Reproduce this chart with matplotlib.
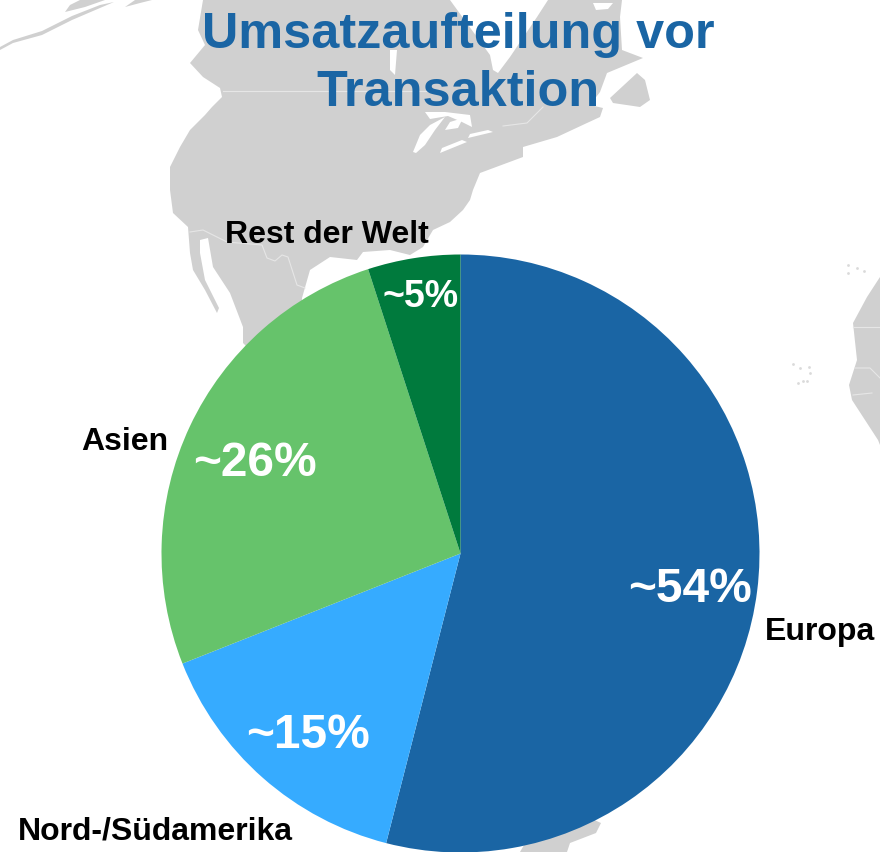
import matplotlib
matplotlib.use('Agg')
import matplotlib.pyplot as plt
from matplotlib.patches import Polygon

categories = ['Europa', 'Nord-/Südamerika', 'Asien', 'Rest der Welt']
shares = [54, 15, 26, 5]
share_labels = ['~54%', '~15%', '~26%', '~5%']
colours = ['#1A65A4', '#36ABFF', '#66C36B', '#007A3D']

W, H = 880, 852
GREY = '#D0D0D0'

# background map, traced in picture pixels (y down)
north_america = [(203,0),(198,30),(205,45),(190,63),(203,77),(220,88),(222,97),(212,107),(205,115),
                 (190,130),(180,147),(170,167),(170,190),(173,213),(188,227),(190,253),(193,270),
                 (205,290),(217,313),(219,308),(205,280),(200,253),(200,240),(208,238),(213,267),
                 (230,293),(243,327),(243,343),(300,400),(302,298),(310,270),(330,257),(357,260),
                 (363,252),(390,250),(410,255),(423,247),(433,230),(450,222),(463,210),(470,200),
                 (473,190),(480,173),(523,157),(523,147),(557,137),(587,123),(600,117),(603,108),
                 (590,105),(600,92),(607,73),(643,58),(622,50),(620,17),(622,0)]
alaska = [(0,50),(13,43),(42,35),(72,20),(100,8),(114,2),(100,5),(72,16),(42,31),(13,40),(0,47)]
alaska_2 = [(65,12),(85,7),(105,0),(80,0),(70,5)]
alaska_3 = [(125,7),(140,3),(152,0),(135,0)]
newfoundland = [(637,73),(610,98),(613,103),(640,107),(650,100),(645,80)]
africa = [(880,277),(867,297),(853,323),(857,360),(849,385),(852,400),(878,440),(880,445)]
south_america = [(601,823),(596,833),(570,843),(567,852),(520,852),(550,800)]
water = [[(450,0),(490,55),(493,70),(498,73),(510,57),(537,17),(548,0)],
         [(593,3),(613,3),(608,9),(596,10)],
         [(413,152),(420,135),(430,125),(445,117),(435,130),(425,145),(416,153)],
         [(425,112),(445,112),(470,115),(472,127),(462,122),(448,116),(430,119)],
         [(445,130),(450,122),(463,118),(458,128)],
         [(440,153),(467,142),(462,140),(442,148)],
         [(468,138),(493,132),(488,130),(470,134)],
         [(390,50),(397,50),(395,75),(390,70)]]
borders = [[(223,91),(440,91)],
           [(503,126),(527,123),(543,107)],
           [(190,232),(203,230),(227,242),(262,245),(267,258),(275,261),(282,255),(288,257),(297,285),(305,288)],
           [(853,327),(880,327)],
           [(855,368),(870,368),(880,378)],
           [(853,395),(872,393)]]
island_x = [793,800,809,810,803,798,807,848,857,864,848]
island_y = [364,368,367,373,381,383,381,265,268,271,273]

fig = plt.figure(figsize=(W/100, H/100), dpi=100)
ax = fig.add_axes([0, 0, 1, 1])

def flip(pts):
    return [(x, H - y) for x, y in pts]

for shape in [north_america, alaska, alaska_2, alaska_3, newfoundland, africa, south_america]:
    ax.add_patch(Polygon(flip(shape), closed=True, facecolor=GREY, edgecolor='none', zorder=0))
for shape in water:
    ax.add_patch(Polygon(flip(shape), closed=True, facecolor='white', edgecolor='none', zorder=0.5))
for line in borders:
    ax.plot(*zip(*flip(line)), color='#E6E6E6', lw=0.8, zorder=0.6)
ax.scatter(island_x, [H - y for y in island_y], s=4, color='#DADADA', linewidths=0, zorder=0.6)

ax.pie(shares, colors=colours, startangle=90, counterclock=False, radius=299,
       center=(460.5, H - 553.5), wedgeprops={'linewidth': 0, 'zorder': 1})
ax.set_xlim(0, W)
ax.set_ylim(0, H)
ax.set_aspect('auto')
ax.axis('off')

plt.rcParams['font.family'] = ['Liberation Sans', 'DejaVu Sans']

ax.text(458, H - 64, 'Umsatzaufteilung vor\nTransaktion', color='#1A65A4', fontsize=36.3,
        fontweight='bold', ha='center', va='center', linespacing=1.35, zorder=3)

label_pos = [(690, 590), (308, 735), (255, 464), (421, 297)]
label_size = [34.5, 34.5, 34.5, 27]
for txt, (x, y), size in zip(share_labels, label_pos, label_size):
    ax.text(x, H - y, txt, color='white', fontsize=size, fontweight='bold',
            ha='center', va='center', zorder=3)

name_pos = [(820, 632), (155, 831), (125, 442), (327, 235)]
for txt, (x, y) in zip(categories, name_pos):
    ax.text(x, H - y, txt, color='black', fontsize=23, fontweight='bold',
            ha='center', va='center', zorder=3)

fig.savefig('out.png', dpi=100)
